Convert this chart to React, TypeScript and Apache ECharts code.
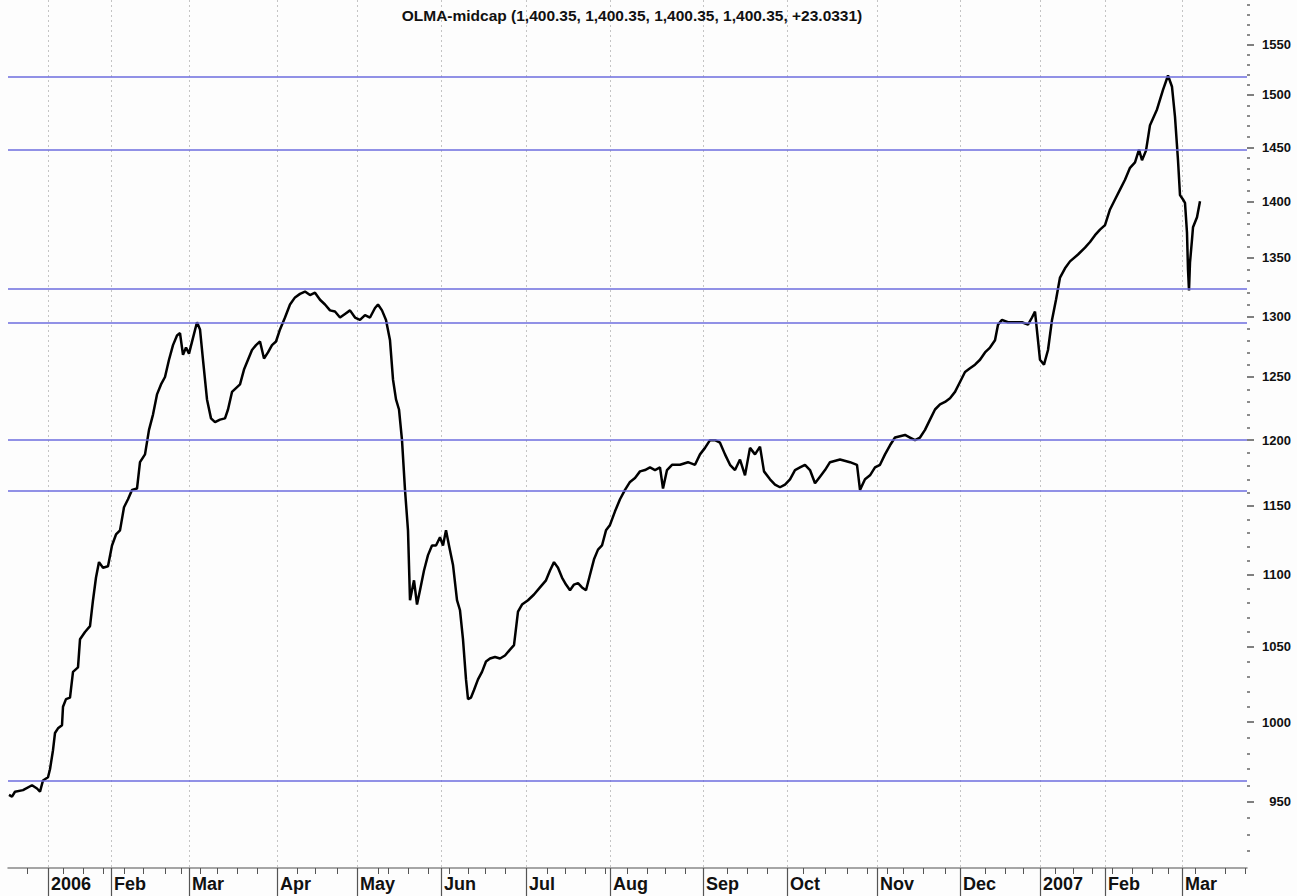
import React, { useEffect, useRef } from "react";
import * as echarts from "echarts";

// Trading-session index (x) and closing value (y)
const sessions = [
  0.25, 1, 1.75, 3.75, 6, 7.25, 8, 8.75, 10, 10.5, 11.25, 11.75, 12.5, 13.5, 13.75, 14.5,
  15.5, 16.25, 17.5, 18, 19.25, 20.5, 21.25, 22, 22.75, 23.75, 25, 26, 27, 28, 29, 30,
  31, 32.25, 33, 34.25, 35.25, 36.25, 37.25, 38.25, 39.25, 40.25, 41.25, 42.25, 43, 43.75,
  44.5, 45.25, 46.25, 47.25, 48, 48.75, 49.75, 50.75, 51.75, 53, 54.25, 55, 56, 57, 58, 59,
  60, 61, 62, 63, 64, 65, 66, 67, 68, 69.25, 70.5, 71.75, 73, 74.25, 75.5, 76.75, 78, 79.25,
  80.5, 81.75, 83, 84.25, 85.5, 86.75, 88, 89.25, 90.5, 91.75, 92.5, 93.5, 94.5, 95.5, 96.25,
  97, 97.75, 98.5, 99.25, 100, 100.5, 101, 101.5, 102.25, 103, 104, 105, 106, 107, 108,
  108.75, 109.5, 110.25, 111.25, 112.25, 113, 113.75, 114.5, 115, 115.75, 116.5, 117.5,
  118.5, 119.5, 120.5, 121.75, 123, 124.25, 125.5, 126.5, 127.5, 128.5, 130, 131.5, 133,
  134.5, 135.5, 136.5, 137.5, 138.5, 139.5, 140.5, 141.5, 142.5, 143.5, 144.5, 145.5, 146.5,
  147.5, 148.5, 149.5, 150.5, 151.75, 153, 154.25, 155.5, 156.75, 158, 159.25, 160.5, 161.75,
  163, 163.75, 164.75, 166, 168, 170, 171.75, 173, 174.25, 175.5, 176.75, 178, 179.25, 180.5,
  181.75, 183, 184.25, 185.5, 186.75, 188, 189, 190.5, 191.75, 193, 194.25, 195.5, 196.75,
  198, 199.25, 200.5, 201.75, 203, 204.25, 205.5, 208, 210.5, 212.25, 213, 214.25, 215.5,
  216.75, 218, 219.25, 220.5, 221.75, 223, 224.25, 225.5, 226.75, 228, 229.25, 230.5, 231.75,
  233, 234.25, 235.5, 236.75, 238, 239.25, 240.5, 241.75, 243, 244.25, 245.5, 246.75, 247.5,
  248.5, 250, 251.75, 253.5, 255, 256, 256.75, 257.5, 258, 259, 260, 261, 262, 263, 264.25,
  265.5, 267.5, 269.25, 270.5, 271.75, 273, 274.25, 275.5, 276.75, 278, 279.25, 280.5,
  281.75, 282.75, 283.5, 284.5, 285.5, 287.25, 288.75, 290, 291, 291.75, 292.5, 293, 293.75,
  294.25, 294.75, 295, 295.25, 295.5, 296, 296.25, 297.25, 298,
];
const closes = [
  954.1, 953, 956, 957, 960, 958, 956, 963, 965, 970, 982, 993, 996, 998, 1010, 1015,
  1016, 1033, 1036, 1055, 1060, 1064, 1082, 1098, 1109, 1105, 1106, 1121, 1129, 1132, 1149, 1155,
  1162, 1163, 1183, 1189, 1208, 1220, 1236, 1244, 1250, 1264, 1276, 1284, 1286, 1268,
  1274, 1269, 1282, 1295, 1289, 1264, 1232, 1217, 1214, 1216, 1217, 1224, 1238, 1241, 1244, 1256,
  1264, 1272, 1276, 1279, 1265, 1270, 1276, 1279, 1289, 1299, 1310, 1316, 1319, 1321, 1318, 1320, 1314, 1310,
  1305, 1304, 1299, 1302, 1305, 1299, 1297, 1301, 1299, 1307, 1310, 1305, 1297, 1280, 1248,
  1232, 1224, 1200, 1162, 1132, 1082, 1089, 1096, 1079, 1089, 1103, 1114, 1121, 1121, 1127,
  1121, 1132, 1121, 1107, 1082, 1075, 1055, 1028, 1015, 1016, 1021, 1028,
  1033, 1040, 1042, 1043, 1042, 1044, 1048, 1051, 1074, 1079, 1082, 1086, 1091,
  1096, 1103, 1109, 1105, 1098, 1093, 1089, 1093, 1094, 1091, 1089, 1100, 1111,
  1118, 1121, 1132, 1136, 1146, 1155, 1162, 1168, 1171, 1176, 1177, 1179, 1177,
  1179, 1163, 1177, 1181, 1181, 1183, 1181, 1189, 1194, 1200, 1200, 1198, 1189, 1181,
  1177, 1185, 1173, 1194, 1189, 1195, 1176, 1170, 1166, 1164, 1166, 1170, 1177,
  1179, 1181, 1177, 1167, 1172, 1177, 1183, 1185, 1183, 1181, 1162, 1170, 1173,
  1179, 1181, 1189, 1196, 1202, 1203, 1204, 1202, 1200, 1202, 1208, 1216, 1224,
  1228, 1230, 1233, 1238, 1246, 1254, 1257, 1260, 1264, 1270, 1274, 1280, 1293,
  1297, 1295, 1295, 1295, 1293, 1299, 1304, 1280, 1264, 1260, 1272, 1297, 1314, 1333, 1341,
  1347, 1353, 1359, 1364, 1370, 1375, 1379, 1393, 1402, 1411, 1420, 1431,
  1436, 1448, 1438, 1447, 1471, 1486, 1505, 1519, 1508, 1479, 1438, 1406, 1402,
  1399, 1372, 1340, 1322, 1346, 1366, 1377, 1386, 1400.35,
];

// Horizontal reference levels (blue lines)
const levels = [1518, 1448, 1323, 1295, 1200, 1161, 963];

// Bottom axis: month starts (session index) and their labels
const monthStarts = [10, 25.75, 45.25, 67.25, 87.25, 108.25, 129.5, 150.5, 173.75, 194.75, 217.25, 238, 258, 274.25, 293.5];
const monthLabels = ["2006", "Feb", "Mar", "Apr", "May", "Jun", "Jul", "Aug", "Sep", "Oct", "Nov", "Dec", "2007", "Feb", "Mar"];
const weekTicks = [
  4.75, 13.75, 18.75, 23.75, 29, 33.75, 39.25, 43.25, 48, 52.25, 57.25, 62.25, 72.25, 76.75,
  82.25, 92.5, 95, 100, 105, 110.25, 115, 119.25, 124.25, 134.75, 139.25, 144.25, 149.25,
  154.75, 159.75, 164.25, 169.25, 179.75, 184.75, 189.75, 198.75, 204.25, 209.75, 214.75,
  219.75, 223.75, 228.75, 234.25, 244.25, 249.25, 253.75, 261.75, 266.25, 271, 276, 281, 286,
  290, 296.75, 304.25, 309.25,
];

// Right axis
const yLabelValues = [950, 1000, 1050, 1100, 1150, 1200, 1250, 1300, 1350, 1400, 1450, 1500, 1550];
const yMinorValues = [
  920, 930, 940, 960, 970, 980, 990, 1010, 1020, 1030, 1040, 1060, 1070, 1080, 1090, 1110, 1120,
  1130, 1140, 1160, 1170, 1180, 1190, 1210, 1220, 1230, 1240, 1260, 1270, 1280, 1290, 1310, 1320,
  1330, 1340, 1360, 1370, 1380, 1390, 1410, 1420, 1430, 1440, 1460, 1470, 1480, 1490, 1510, 1520,
  1530, 1540, 1560, 1570, 1580, 1590,
];
const Y_MIN = 910;
const Y_MAX = 1595;
const X_MAX = 309.75;

const titleText = "OLMA-midcap (1,400.35, 1,400.35, 1,400.35, 1,400.35, +23.0331)";
const FONT = "'Liberation Sans', Arial, sans-serif";

export default function App() {
  const ref = useRef<HTMLDivElement>(null);

  useEffect(() => {
    document.body.style.margin = "0";
    if (!ref.current) return;
    const chart = echarts.init(ref.current, undefined, { renderer: "svg" });
    const data = sessions.map((s, i) => [s, closes[i]]);

    const monthLabel = (v: number) => {
      let best = 0;
      let bd = Infinity;
      monthStarts.forEach((m, i) => {
        const d = Math.abs(m - v);
        if (d < bd) {
          bd = d;
          best = i;
        }
      });
      return monthLabels[best];
    };

    chart.setOption({
      animation: false,
      backgroundColor: "#fdfdfd",
      title: {
        text: titleText,
        left: 627,
        top: 2,
        textAlign: "center",
        textStyle: { fontFamily: FONT, fontSize: 15.5, fontWeight: "bold", color: "#111" },
      },
      grid: { left: 8, right: 50, top: 0, bottom: 28, containLabel: false },
      xAxis: [
        {
          type: "value",
          position: "bottom",
          min: 0,
          max: X_MAX,
          axisLine: { show: true, onZero: false, lineStyle: { color: "#888", width: 1.5 } },
          axisTick: { show: true, customValues: weekTicks, length: 6, lineStyle: { color: "#555", width: 1 } },
          axisLabel: { show: false },
          splitLine: { show: false },
        },
        {
          type: "value",
          position: "bottom",
          min: 0,
          max: X_MAX,
          axisLine: { show: false, onZero: false },
          axisTick: { show: true, customValues: monthStarts, length: 28, lineStyle: { color: "#555", width: 1.2 } },
          axisLabel: {
            show: true,
            customValues: monthStarts,
            formatter: (v: number) => monthLabel(v),
            align: "left",
            verticalAlign: "top",
            margin: 7,
            padding: [0, 0, 0, 3],
            fontFamily: FONT,
            fontSize: 18,
            fontWeight: "bold",
            color: "#111",
          },
          splitLine: { show: true, lineStyle: { color: "#c4c4c4", width: 1, type: [2, 3] } },
        },
      ],
      yAxis: [
        {
          type: "log",
          position: "right",
          min: Y_MIN,
          max: Y_MAX,
          axisLine: { show: false, onZero: false },
          axisTick: { show: true, customValues: yLabelValues, length: 7, lineStyle: { color: "#555", width: 1.5 } },
          axisLabel: {
            show: true,
            customValues: yLabelValues,
            formatter: (v: number) => String(Math.round(v)),
            align: "right",
            margin: 44,
            fontFamily: FONT,
            fontSize: 13,
            fontWeight: "bold",
            color: "#111",
          },
          splitLine: { show: false },
        },
        {
          type: "log",
          position: "right",
          min: Y_MIN,
          max: Y_MAX,
          axisLine: { show: false, onZero: false },
          axisTick: { show: true, customValues: yMinorValues, length: 3, lineStyle: { color: "#666", width: 1.5 } },
          axisLabel: { show: false },
          splitLine: { show: false },
        },
      ],
      series: [
        {
          type: "line",
          xAxisIndex: 0,
          yAxisIndex: 0,
          data,
          showSymbol: false,
          symbol: "none",
          lineStyle: { color: "#000", width: 2.5 },
          z: 3,
          markLine: {
            silent: true,
            symbol: ["none", "none"],
            label: { show: false },
            lineStyle: { color: "#6c6cde", width: 1.6, type: "solid" },
            data: levels.map((v) => ({ yAxis: v })),
          },
        },
      ],
    });

    return () => chart.dispose();
  }, []);

  return (
    <div
      ref={ref}
      style={{ position: "fixed", left: 0, top: 0, width: 1297, height: 896 }}
    />
  );
}
